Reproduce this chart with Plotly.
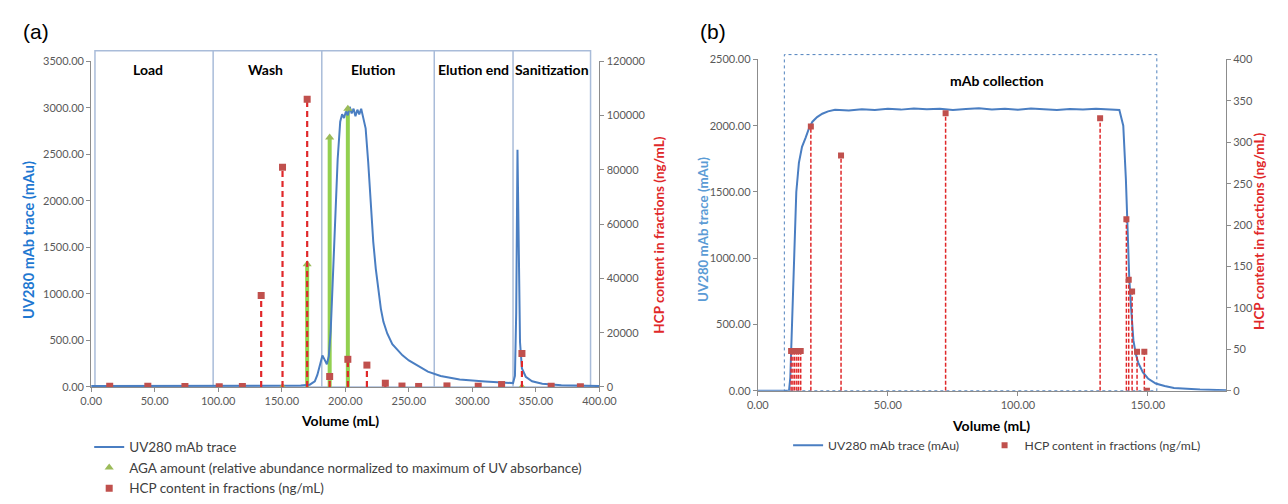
import plotly.graph_objects as go

W, H = 1288, 504

# ---------------- Panel (a) data ----------------
uv_a_vol = [0, 50, 100, 150, 165, 172, 176, 178, 179.5, 180.8, 182, 183.5, 185.5, 187, 188.5, 190, 192, 194, 196,
            197.5, 199, 200.5, 202, 203.5, 205, 206.5, 208, 209.5, 211, 212.5, 214, 216, 218, 220, 222, 224, 226,
            228, 230, 233, 237, 241, 245, 250, 258, 265, 275, 290, 310, 325, 332, 333.5, 334.5, 335.5, 336.5, 337.5,
            339, 342, 347, 355, 370, 400]
uv_a_val = [10, 10, 10, 12, 15, 25, 60, 130, 220, 300, 338, 300, 245, 330, 600, 1100, 1800, 2450, 2850,
            2930, 2890, 2960, 2920, 3010, 2940, 2990, 2910, 2980, 2930, 2990, 2900, 2780, 2420, 1950, 1560, 1270, 1030,
            840, 700, 575, 460, 395, 340, 285, 220, 165, 118, 80, 60, 48, 42, 120, 800, 2550, 1500, 480,
            200, 110, 62, 35, 20, 10]

aga_vol = [150.6, 170, 187.7, 202, 323, 339]
aga_val = [0, 1320, 2680, 2990, 0, 0]

hcp_a_vol = [14.6, 44.6, 73.8, 100.8, 119, 133.8, 150.6, 170, 187.7, 202, 217, 231.5, 244.6, 257.7, 280, 304.6,
             323, 339, 362, 385]
hcp_a_val = [300, 250, 200, 100, 150, 33700, 81000, 106000, 3860, 10200, 8070, 1400, 350, 200, 400, 300,
             900, 12300, 300, 100]

phase_names = ["Load", "Wash", "Elution", "Elution end", "Sanitization"]
phase_bounds = [3, 96, 181.5, 270, 332, 393]
phase_label_x = [45, 137, 222, 301, 363]

# ---------------- Panel (b) data ----------------
uv_b_vol = [0, 5, 10, 12, 12.5, 13.2, 14, 14.8, 15.8, 17, 18.4, 19.6, 21, 22.8, 24.8, 27, 29.7, 35, 40, 45, 50, 55,
            60, 65, 70, 75, 80, 85, 90, 95, 100, 105, 110, 115, 120, 125, 130, 135, 139, 140.5, 141.5, 142.2, 142.8,
            143.6, 144.4, 145.3, 146.2, 148, 150, 153, 156.4, 160, 165, 170, 180]
uv_b_val = [0, 0, 0, 0, 100, 500, 1100, 1500, 1720, 1840, 1910, 1975, 2030, 2065, 2090, 2108, 2120, 2115, 2124, 2118,
            2127, 2121, 2130, 2123, 2128, 2119, 2126, 2131, 2122, 2127, 2120, 2129, 2124, 2118, 2126, 2121, 2127,
            2123, 2118, 2000, 1600, 1200, 850, 600, 380, 280, 215, 140, 93, 55, 36, 22, 13, 9, 4]

hcp_b_vol = [12.8, 13.5, 14.2, 15.0, 15.7, 16.5, 20.4, 32, 72.2, 131.6, 141.7, 142.6, 143.9, 145.8, 148.6, 149.6]
hcp_b_val = [48, 48, 48, 48, 48, 48, 319, 284, 335, 329, 207, 134, 120, 47, 47, 0]

collection_range = [10.2, 153.4]

# ---------------- styles ----------------
BLUE = "#4A7EC2"
RED_M = "#C0504D"
RED_L = "#E0282A"
GREEN_L = "#92D050"
GREEN_M = "#9BBB59"
FRAME = "#A9BCD9"
AX = "#8C8C8C"
TXT = "#404040"
FONT = "Lato"


def stems(xs, ys):
    sx, sy = [], []
    for x, y in zip(xs, ys):
        sx += [x, x, None]
        sy += [0, y, None]
    return sx, sy


fig = go.Figure()

# Panel (a) traces
gx, gy = stems(aga_vol, aga_val)
fig.add_trace(go.Scatter(x=gx, y=gy, mode="lines", line=dict(color=GREEN_L, width=4),
                         xaxis="x", yaxis="y", showlegend=False, hoverinfo="skip"))
fig.add_trace(go.Scatter(x=uv_a_vol, y=uv_a_val, mode="lines", line=dict(color=BLUE, width=2),
                         name="UV280 mAb trace", xaxis="x", yaxis="y", legend="legend"))
fig.add_trace(go.Scatter(x=aga_vol, y=aga_val, mode="markers",
                         marker=dict(symbol="triangle-up", color=GREEN_M, size=8),
                         name="AGA amount (relative abundance normalized to maximum of UV absorbance)",
                         xaxis="x", yaxis="y", legend="legend"))
rx, ry = stems(hcp_a_vol, hcp_a_val)
fig.add_trace(go.Scatter(x=rx, y=ry, mode="lines", line=dict(color=RED_L, width=2.2, dash="6px,4px"),
                         xaxis="x", yaxis="y2", showlegend=False, hoverinfo="skip"))
fig.add_trace(go.Scatter(x=hcp_a_vol, y=hcp_a_val, mode="markers",
                         marker=dict(symbol="square", color=RED_M, size=7),
                         name="HCP content in fractions (ng/mL)", xaxis="x", yaxis="y2", legend="legend"))

# Panel (b) traces
fig.add_trace(go.Scatter(x=uv_b_vol, y=uv_b_val, mode="lines", line=dict(color=BLUE, width=2),
                         name="UV280 mAb trace (mAu)", xaxis="x2", yaxis="y3", legend="legend2"))
bx, by = stems(hcp_b_vol, hcp_b_val)
fig.add_trace(go.Scatter(x=bx, y=by, mode="lines", line=dict(color=RED_L, width=1.5, dash="4px,2px"),
                         xaxis="x2", yaxis="y4", showlegend=False, hoverinfo="skip"))
fig.add_trace(go.Scatter(x=hcp_b_vol, y=hcp_b_val, mode="markers",
                         marker=dict(symbol="square", color=RED_M, size=6),
                         name="HCP content in fractions (ng/mL)", xaxis="x2", yaxis="y4", legend="legend3"))

tickfont = dict(family=FONT, size=11, color="#595959")
axcommon = dict(showgrid=False, zeroline=False, showline=True, linecolor=AX, linewidth=1,
                ticks="outside", ticklen=4, tickcolor=AX, tickfont=tickfont, fixedrange=True)

# domains (pixel -> paper)
xa = [82 / W, 602 / W]
ya = [(H - 399) / H, (H - 57) / H]
xb = [764 / W, 1243 / W]
yb = [(H - 403) / H, (H - 55) / H]

legfont_b = dict(family=FONT, size=12.2, color=TXT)
fig.update_layout(
    width=W, height=H, margin=dict(l=0, r=0, t=0, b=0),
    paper_bgcolor="white", plot_bgcolor="white",
    font=dict(family=FONT, color=TXT),
    xaxis=dict(domain=xa, range=[0, 400], dtick=50, tickformat=".2f", anchor="y", **axcommon),
    yaxis=dict(domain=ya, range=[0, 3500], dtick=500, tickformat=".2f", anchor="x", **axcommon),
    yaxis2=dict(domain=ya, range=[0, 120000], dtick=20000, tickformat="d", overlaying="y", side="right",
                anchor="x", **axcommon),
    xaxis2=dict(domain=xb, range=[0, 180], tickvals=[0, 50, 100, 150], tickformat=".2f", anchor="y3", **axcommon),
    yaxis3=dict(domain=yb, range=[0, 2500], dtick=500, tickformat=".2f", anchor="x2", **axcommon),
    yaxis4=dict(domain=yb, range=[0, 400], dtick=50, tickformat="d", overlaying="y3", side="right",
                anchor="x2", **axcommon),
    legend=dict(x=80 / W, y=(H - 446) / H, xanchor="left", yanchor="top", orientation="v",
                font=dict(family=FONT, size=13.5, color=TXT), bgcolor="rgba(0,0,0,0)", tracegroupgap=0,
                itemwidth=30),
    legend2=dict(x=795 / W, y=(H - 445) / H, xanchor="left", yanchor="top", orientation="h",
                 font=legfont_b, bgcolor="rgba(0,0,0,0)", itemwidth=30),
    legend3=dict(x=996 / W, y=(H - 445) / H, xanchor="left", yanchor="top", orientation="h",
                 font=legfont_b, bgcolor="rgba(0,0,0,0)", itemwidth=30),
)

# Panel (a) phase frame (x in data, y in plot-domain fraction so the top edge can sit above the axis max)
top_a = 1.032
shapes = [dict(type="rect", xref="x", yref="y domain", x0=phase_bounds[0], x1=phase_bounds[-1], y0=0, y1=top_a,
               line=dict(color=FRAME, width=1.5), layer="below")]
for b in phase_bounds[1:-1]:
    shapes.append(dict(type="line", xref="x", yref="y domain", x0=b, x1=b, y0=0, y1=top_a,
                       line=dict(color=FRAME, width=1.5), layer="below"))
# Panel (b) collection box
shapes.append(dict(type="rect", xref="x2", yref="y3 domain", x0=collection_range[0], x1=collection_range[1],
                   y0=0, y1=1.0144, line=dict(color="#4F81BD", width=1, dash="dot"), layer="below"))
fig.update_layout(shapes=shapes)

ann = []
for name, lx in zip(phase_names, phase_label_x):
    ann.append(dict(x=lx, y=3411, xref="x", yref="y",
                    text=f"<b>{name}</b>", showarrow=False, xanchor="center", yanchor="middle",
                    font=dict(family=FONT, size=14, color="black")))
ann.append(dict(x=92, y=2342, xref="x2", yref="y3", text="<b>mAb collection</b>", showarrow=False,
                xanchor="center", yanchor="middle", font=dict(family=FONT, size=14, color="black")))


def pa(xp, yp, text, size, color, angle=0, family=FONT):
    return dict(x=xp / W, y=(H - yp) / H, xref="paper", yref="paper", text=text, textangle=angle,
                showarrow=False, xanchor="center", yanchor="middle",
                font=dict(family=family, size=size, color=color))


ann += [
    pa(18, 245, "<b>UV280 mAb trace (mAu)</b>", 14.5, "#1F78D1", -90),
    pa(662, 240, "<b>HCP content in fractions (ng/mL)</b>", 13.5, RED_L, -90),
    pa(337, 434, "<b>Volume (mL)</b>", 14, "black"),
    pa(708, 234, "<b>UV280 mAb trace (mAu)</b>", 13.3, "#5B9BD5", -90),
    pa(1277, 236, "<b>HCP content in fractions (ng/mL)</b>", 13.5, RED_L, -90),
    pa(1003, 439, "<b>Volume (mL)</b>", 14, "black"),
    pa(26, 26, "(a)", 21, "black", 0, "Liberation Sans"),
    pa(718, 26, "(b)", 21, "black", 0, "Liberation Sans"),
]
fig.update_layout(annotations=ann)

fig.write_html("out.html")
